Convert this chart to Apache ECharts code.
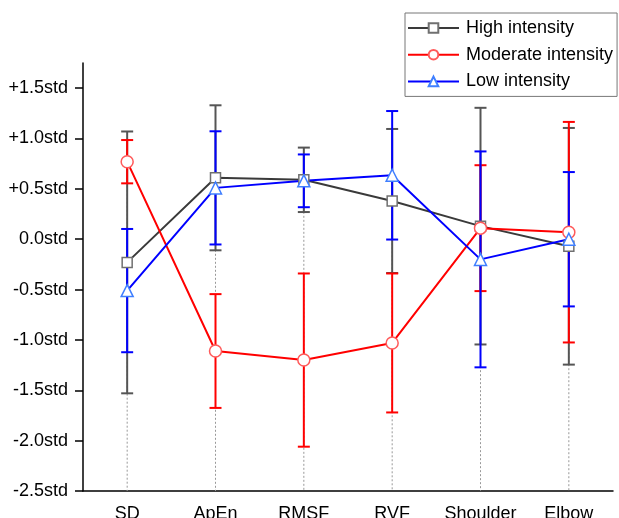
<!DOCTYPE html>
<html>
<head>
<meta charset="utf-8">
<script src="https://cdn.jsdelivr.net/npm/echarts@6/dist/echarts.min.js"></script>
<style>
  html, body { margin: 0; padding: 0; background: #fff; }
  #chart { width: 619px; height: 518px; }
</style>
</head>
<body>
<div id="chart"></div>
<script>
// chart data
const categories = ['SD', 'ApEn', 'RMSF', 'RVF', 'Shoulder', 'Elbow'];
const highMean = [-0.23, 0.61, 0.59, 0.38, 0.13, -0.07];
const highErr = [1.30, 0.72, 0.32, 0.715, 1.175, 1.175];
const modMean = [0.77, -1.11, -1.20, -1.03, 0.11, 0.07];
const modErr = [0.215, 0.565, 0.86, 0.69, 0.625, 1.095];
const lowMean = [-0.51, 0.51, 0.58, 0.635, -0.20, 0.0];
const lowErr = [0.612, 0.562, 0.262, 0.638, 1.072, 0.667];
const yTicks = [-2.5, -2.0, -1.5, -1.0, -0.5, 0.0, 0.5, 1.0, 1.5];

const FONT = 'Liberation Sans, Arial, sans-serif';

const chart = echarts.init(document.getElementById('chart'));

// error bar rows: [category index, low, high]
const errRows = (mean, err) => mean.map((m, i) => [i, m - err[i], m + err[i]]);

const errorBarSeries = (name, mean, err, color) => ({
  type: 'custom',
  name: name + ' err',
  data: errRows(mean, err),
  encode: { x: 0, y: [1, 2] },
  silent: true,
  renderItem: (params, api) => {
    const lo = api.coord([api.value(0), api.value(1)]);
    const hi = api.coord([api.value(0), api.value(2)]);
    const cap = 6;
    const style = { stroke: color, lineWidth: 2 };
    return {
      type: 'group',
      children: [
        { type: 'line', shape: { x1: lo[0], y1: lo[1], x2: hi[0], y2: hi[1] }, style },
        { type: 'line', shape: { x1: hi[0] - cap, y1: hi[1], x2: hi[0] + cap, y2: hi[1] }, style },
        { type: 'line', shape: { x1: lo[0] - cap, y1: lo[1], x2: lo[0] + cap, y2: lo[1] }, style }
      ]
    };
  }
});

// drop lines from the highest point at each category down to the axis
const dropRows = categories.map((c, i) => [i, Math.max(highMean[i], modMean[i], lowMean[i])]);

const option = {
  backgroundColor: '#fff',
  animation: false,
  grid: { left: 83, right: 6, top: 63, bottom: 27, outerBoundsMode: 'none' },
  legend: {
    data: ['High intensity', 'Moderate intensity', 'Low intensity'],
    orient: 'vertical',
    left: 405,
    top: 13,
    itemWidth: 51,
    itemHeight: 12,
    itemGap: 8.7,
    padding: [6, 4, 6, 2],
    borderColor: '#777',
    borderWidth: 1,
    textStyle: { fontFamily: FONT, fontSize: 18, color: '#000', padding: [0, 0, 0, 2] }
  },
  xAxis: {
    type: 'category',
    data: categories,
    boundaryGap: true,
    axisLine: { onZero: false, lineStyle: { color: '#000', width: 1.5 } },
    axisTick: { alignWithLabel: true, length: 6, lineStyle: { color: '#000', width: 1.5 } },
    axisLabel: { interval: 0, fontFamily: FONT, fontSize: 18, color: '#000', margin: 14 },
    splitLine: { show: false }
  },
  yAxis: {
    type: 'value',
    min: -2.5,
    max: 1.75,
    interval: 0.5,
    axisLine: { show: true, lineStyle: { color: '#000', width: 1.5 } },
    axisTick: { show: true, length: 8, customValues: yTicks, lineStyle: { color: '#000', width: 1.5 } },
    axisLabel: {
      fontFamily: FONT, fontSize: 18, color: '#000', margin: 15,
      customValues: yTicks,
      formatter: v => (v > 0 ? '+' : '') + v.toFixed(1) + 'std'
    },
    splitLine: { show: false }
  },
  series: [
    {
      type: 'custom',
      name: 'drop',
      data: dropRows,
      silent: true,
      renderItem: (params, api) => {
        const top = api.coord([api.value(0), api.value(1)]);
        const bottom = api.coord([api.value(0), -2.5]);
        return {
          type: 'line',
          shape: { x1: top[0], y1: top[1], x2: bottom[0], y2: bottom[1] },
          style: { stroke: '#999', lineWidth: 1, lineDash: [2, 2] }
        };
      }
    },
    errorBarSeries('High intensity', highMean, highErr, '#555555'),
    {
      type: 'line',
      name: 'High intensity',
      data: highMean,
      symbol: 'rect',
      symbolSize: 10,
      lineStyle: { color: '#3a3a3a', width: 2 },
      itemStyle: { color: '#fff', borderColor: '#707070', borderWidth: 1.5 }
    },
    errorBarSeries('Moderate intensity', modMean, modErr, '#ff0000'),
    {
      type: 'line',
      name: 'Moderate intensity',
      data: modMean,
      symbol: 'circle',
      symbolSize: 12,
      lineStyle: { color: '#ff0000', width: 2 },
      itemStyle: { color: '#fff', borderColor: '#ff5a5a', borderWidth: 1.5 }
    },
    errorBarSeries('Low intensity', lowMean, lowErr, '#0000ff'),
    {
      type: 'line',
      name: 'Low intensity',
      data: lowMean,
      symbol: 'triangle',
      symbolSize: 12,
      lineStyle: { color: '#0000ff', width: 2 },
      itemStyle: { color: '#fff', borderColor: '#3f7fff', borderWidth: 1.5 }
    }
  ]
};

chart.setOption(option);
</script>
</body>
</html>
